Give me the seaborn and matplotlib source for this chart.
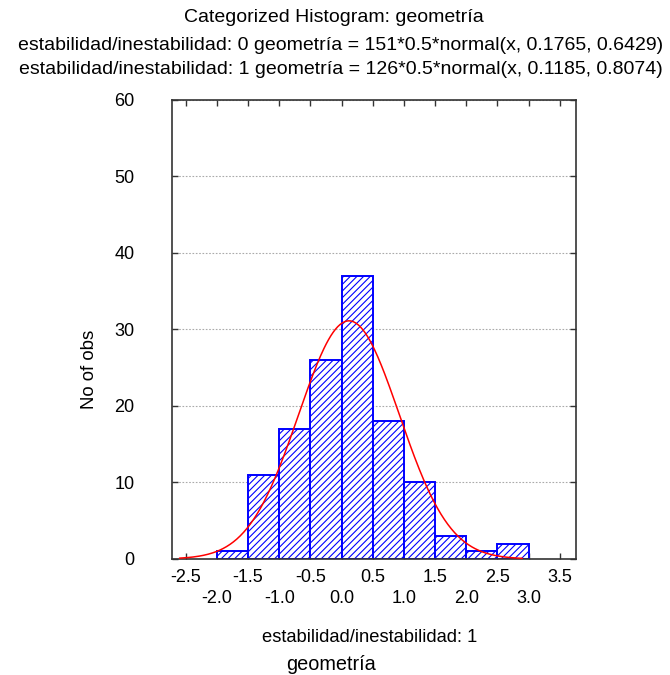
import numpy as np
import pandas as pd
import matplotlib
matplotlib.use("Agg")
import matplotlib.pyplot as plt
import seaborn as sns

# ---- data ----
bin_edges = [-2.0, -1.5, -1.0, -0.5, 0.0, 0.5, 1.0, 1.5, 2.0, 2.5, 3.0]
counts = [1, 11, 17, 26, 37, 18, 10, 3, 1, 2]
fit_n = 126
fit_width = 0.5
fit_mean = 0.1185
fit_sd = 0.8074
curve_range = (-2.6, 2.9)
x_ticks = [-2.5, -2.0, -1.5, -1.0, -0.5, 0.0, 0.5, 1.0, 1.5, 2.0, 2.5, 3.0, 3.5]
y_ticks = [0, 10, 20, 30, 40, 50, 60]
title1 = "Categorized Histogram: geometría"
title2 = "estabilidad/inestabilidad: 0 geometría = 151*0.5*normal(x, 0.1765, 0.6429)"
title3 = "estabilidad/inestabilidad: 1 geometría = 126*0.5*normal(x, 0.1185, 0.8074)"
xlabel1 = "estabilidad/inestabilidad: 1"
xlabel2 = "geometría"
ylabel = "No of obs"

sns.set_style("ticks")
plt.rcParams['font.family'] = ['Liberation Sans', 'DejaVu Sans']
plt.rcParams['text.color'] = 'black'
plt.rcParams['hatch.linewidth'] = 0.8
plt.rcParams['hatch.color'] = 'blue'

fig = plt.figure(figsize=(6.7, 6.75), dpi=100)
ax = fig.add_axes([0.2567, 0.1719, 0.603, 0.680])

centers = [(bin_edges[i] + bin_edges[i + 1]) / 2 for i in range(len(counts))]
df = pd.DataFrame({"x": centers, "w": counts})
sns.histplot(data=df, x="x", weights="w", bins=bin_edges, ax=ax,
             stat="count", facecolor="white", edgecolor="blue",
             linewidth=1.4, alpha=1.0, hatch="/////", zorder=2)

xs = np.linspace(curve_range[0], curve_range[1], 300)
ys = fit_n * fit_width * np.exp(-0.5 * ((xs - fit_mean) / fit_sd) ** 2) / (fit_sd * np.sqrt(2 * np.pi))
sns.lineplot(x=xs, y=ys, ax=ax, color="red", linewidth=1.1, zorder=3)

ax.set_xlim(-2.72, 3.76)
ax.set_ylim(0, 60)
ax.set_xticks(x_ticks)
labels = []
for i, t in enumerate(x_ticks):
    s = f"{t:.1f}"
    labels.append(s if i % 2 == 0 else "\n" + s)
ax.set_xticklabels(labels, linespacing=1.3)
ax.set_yticks(y_ticks)
ax.tick_params(axis="both", direction="in", length=4, width=1, labelsize=13,
               top=True, right=True, colors="#333333", labelcolor="black")
ax.tick_params(axis="x", pad=7)
ax.tick_params(axis="y", pad=27)
for lab in ax.get_yticklabels():
    lab.set_horizontalalignment("right")
ax.yaxis.grid(True, linestyle=(0, (1.5, 1.5)), color="#aaaaaa", linewidth=0.8, zorder=0)
ax.set_axisbelow(True)
for sp in ax.spines.values():
    sp.set_color("#333333")
    sp.set_linewidth(1.2)
ax.set_xlabel("")
ax.set_ylabel("")

fig.text(334 / 670, 1 - 18 / 675, title1, ha="center", va="center", fontsize=14)
fig.text(341 / 670, 1 - 46 / 675, title2, ha="center", va="center", fontsize=14)
fig.text(341 / 670, 1 - 70 / 675, title3, ha="center", va="center", fontsize=14)
fig.text(370 / 670, 1 - 637 / 675, xlabel1, ha="center", va="center", fontsize=13.2)
fig.text(331 / 670, 1 - 664 / 675, xlabel2, ha="center", va="center", fontsize=14.3)
fig.text(90 / 670, 1 - 369 / 675, ylabel, ha="center", va="center", rotation=90, fontsize=13.4)

fig.savefig("out.png", dpi=100)
